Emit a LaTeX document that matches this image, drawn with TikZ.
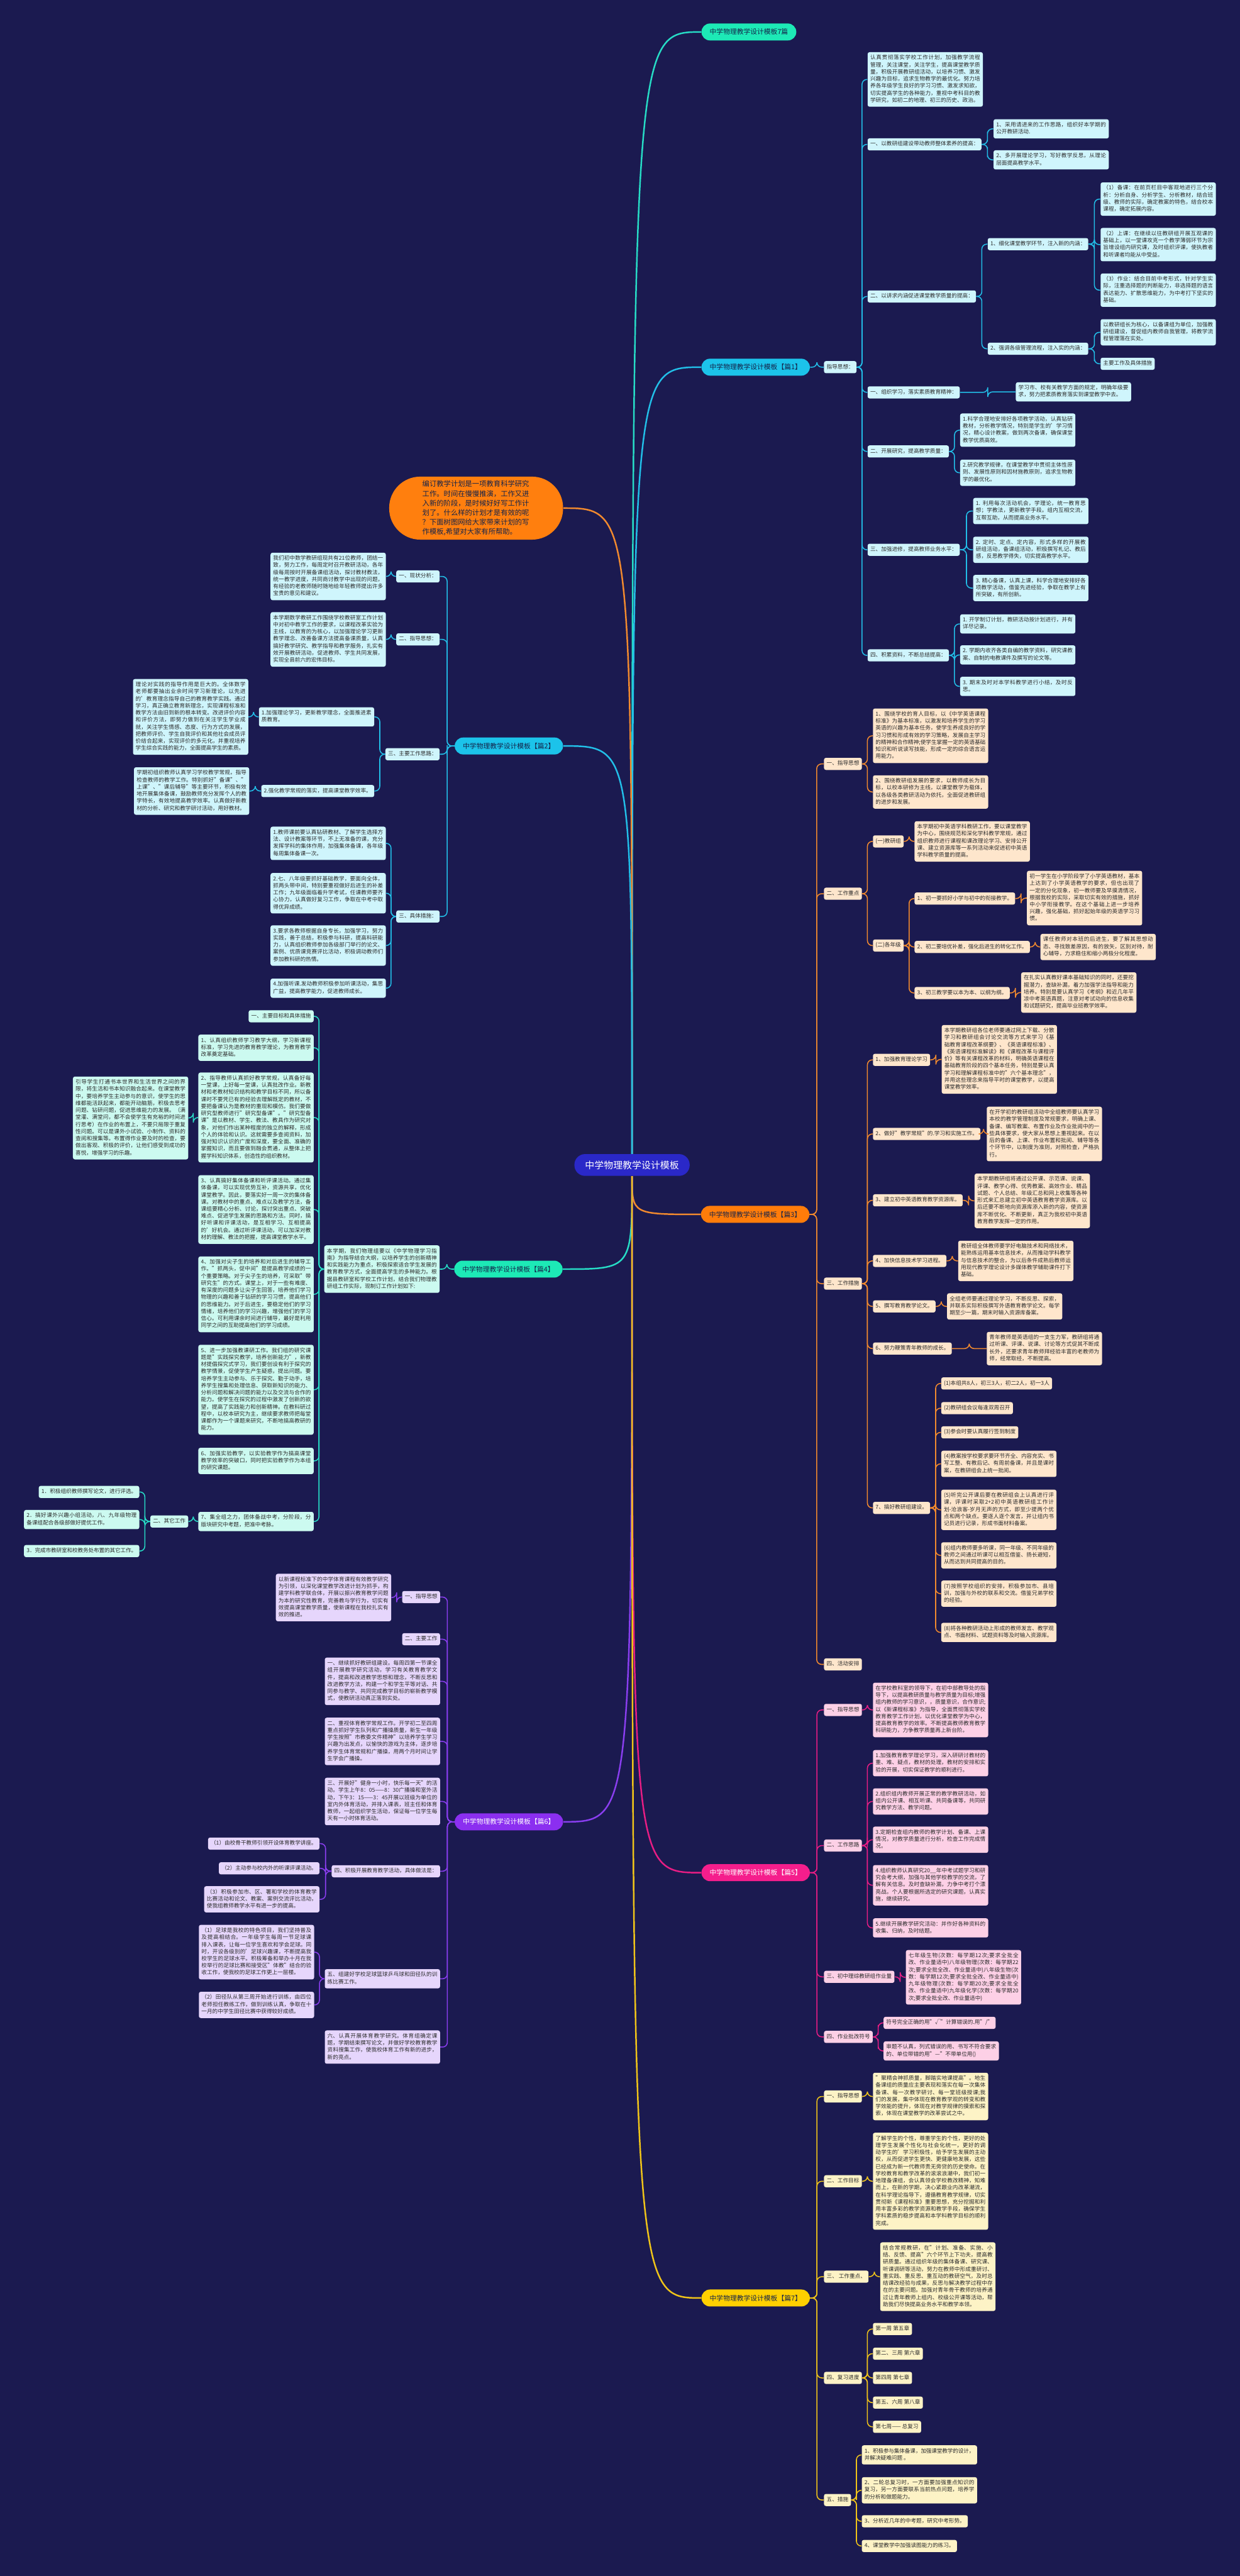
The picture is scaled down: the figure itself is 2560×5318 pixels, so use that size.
\documentclass[tikz,border=0pt]{standalone}
\usepackage{fontspec}
\setmainfont{Noto Sans CJK SC}
\usetikzlibrary{calc}
\XeTeXlinebreaklocale "zh"
\XeTeXlinebreakskip=0pt plus 1pt minus 0.2pt
\definecolor{bgc}{HTML}{1B1A50}
\definecolor{txtc}{HTML}{2B2B2B}
\definecolor{centc}{HTML}{2A28C8}
\definecolor{lnC}{HTML}{22BFE8}\definecolor{fC}{HTML}{CFF5FC}\definecolor{tC}{HTML}{1CC3EA}
\definecolor{lnO}{HTML}{F28A2E}\definecolor{fO}{HTML}{FEE6CC}\definecolor{tO}{HTML}{FF7C0A}
\definecolor{lnM}{HTML}{E81D84}\definecolor{fM}{HTML}{FDD0E6}\definecolor{tM}{HTML}{F51E8C}
\definecolor{lnY}{HTML}{F0C419}\definecolor{fY}{HTML}{FDF3C6}\definecolor{tY}{HTML}{FFD000}
\definecolor{lnT}{HTML}{27DCC6}\definecolor{fT}{HTML}{CCFAF0}\definecolor{tT}{HTML}{1DE9B6}
\definecolor{lnP}{HTML}{8A3EF0}\definecolor{fP}{HTML}{E6D6FC}\definecolor{tP}{HTML}{8B2FF0}
\definecolor{introc}{HTML}{FF7F0E}
\definecolor{darkt}{HTML}{14234A}
\newcommand\myR[3]{\draw[#1] (#2.east) -| ($(#2.east)!0.5!(#3.west)$) |- (#3.west);}
\newcommand\myL[3]{\draw[#1] (#2.west) -| ($(#2.west)!0.5!(#3.east)$) |- (#3.east);}
\newcommand\myC[4]{\draw[#1] (cent.#2) .. controls (cent.#2 |- #3.#4) .. (#3.#4);}
\tikzset{
  lf/.style={font=\fontsize{5.6pt}{7.3pt}\selectfont, text=txtc, inner xsep=2.75pt, inner ysep=2.6pt,
    rounded corners=2pt, execute at begin node=\strut, execute at end node=\strut},
  wd/.style={text width=113.5pt, align=justify},
  bC/.style={lf, fill=fC}, bO/.style={lf, fill=fO}, bM/.style={lf, fill=fM},
  bY/.style={lf, fill=fY}, bT/.style={lf, fill=fT}, bP/.style={lf, fill=fP},
  kC/.style={draw=lnC, line width=1pt, rounded corners=5pt},
  kO/.style={draw=lnO, line width=1pt, rounded corners=5pt},
  kM/.style={draw=lnM, line width=1pt, rounded corners=5pt},
  kY/.style={draw=lnY, line width=1pt, rounded corners=5pt},
  kT/.style={draw=lnT, line width=1pt, rounded corners=5pt},
  kP/.style={draw=lnP, line width=1pt, rounded corners=5pt},
  topn/.style={font=\fontsize{7pt}{9pt}\selectfont, rounded corners=8.75pt, minimum height=17.5pt,
    inner xsep=8.5pt, inner ysep=1pt},
  mn/.style={line width=1.6pt}
}
\begin{document}
\begin{tikzpicture}[x=0.5pt,y=-0.5pt]
\fill[bgc] (0,0) rectangle (2560,5318);
\useasboundingbox (0,0) rectangle (2560,5318);

% ---------- centre and level 1 ----------
\node[fill=centc, text=white, font=\fontsize{9.7pt}{12pt}\selectfont, rounded corners=11pt,
  minimum width=119pt, minimum height=22.5pt] (cent) at (1305,2405) {中学物理教学设计模板};
\node[topn, fill=tT, text=darkt, anchor=west] (t0) at (1448,66) {中学物理教学设计模板7篇};
\node[topn, fill=tC, text=darkt, anchor=west] (s1) at (1448,758) {中学物理教学设计模板【篇1】};
\node[topn, fill=tO, text=darkt, anchor=west] (s3) at (1447,2507) {中学物理教学设计模板【篇3】};
\node[topn, fill=tM, text=white, anchor=west] (s5) at (1448,3866) {中学物理教学设计模板【篇5】};
\node[topn, fill=tY, text=darkt, anchor=west] (s7) at (1448,4744) {中学物理教学设计模板【篇7】};
\node[topn, fill=tC, text=darkt, anchor=east] (s2) at (1163,1540) {中学物理教学设计模板【篇2】};
\node[topn, fill=tT, text=darkt, anchor=east] (s4) at (1162,2620) {中学物理教学设计模板【篇4】};
\node[topn, fill=tP, text=white, anchor=east] (s6) at (1163,3761) {中学物理教学设计模板【篇6】};
\node[fill=introc, text=darkt, anchor=east, font=\fontsize{7.35pt}{9.8pt}\selectfont, rounded corners=32pt,
  minimum width=179.5pt, minimum height=65pt, text width=111pt, align=left] (intro) at (1163,1049)
  {编订教学计划是一项教育科学研究\\工作。时间在慢慢推演，工作又进\\入新的阶段，是时候好好写工作计\\划了。什么样的计划才是有效的呢\\？下面树图网给大家带来计划的写\\作模板,希望对大家有所帮助。};

% ---------- 篇1 ----------
\node[bC, anchor=west] (g1) at (1701,758) {指导思想：};
\node[bC, wd, anchor=west] (a0) at (1791,164) {认真贯彻落实学校工作计划，加强教学流程管理，关注课堂，关注学生，提高课堂教学质量，积极开展教研组活动，以培养习惯、激发兴趣为目标，追求生物教学的最优化。努力培养各年级学生良好的学习习惯、激发求知欲，切实提高学生的各种能力，重视中考科目的教学研究，如初二的地理、初三的历史、政治。};
\node[bC, anchor=west] (a1) at (1791,298) {一、以教研组建设带动教师整体素养的提高：};
\node[bC, wd, anchor=west] (a1a) at (2051,266) {1、采用请进来的工作思路，组织好本学期的公开教研活动.};
\node[bC, wd, anchor=west] (a1b) at (2051,330) {2、多开展理论学习，写好教学反思，从理论层面提高教学水平。};
\node[bC, anchor=west] (a2) at (1791,612) {二、以讲求内涵促进课堂教学质量的提高：};
\node[bC, anchor=west] (a2a) at (2039,504) {1、细化课堂教学环节，注入新的内涵：};
\node[bC, wd, anchor=west] (a2a1) at (2272,411) {（1）备课：在前页栏目中客观地进行三个分析：分析自身、分析学生、分析教材，结合班级、教师的实际，确定教案的特色，结合校本课程，确定拓展内容。};
\node[bC, wd, anchor=west] (a2a2) at (2272,505) {（2）上课：在继续以往教研组开展互观课的基础上，以一堂课攻克一个教学薄弱环节为宗旨增设组内研究课，及时组织评课，使执教者和听课者均能从中受益。};
\node[bC, wd, anchor=west] (a2a3) at (2272,599) {（3）作业：结合目前中考形式，针对学生实际，注重选择题的判断能力，非选择题的语言表达能力、扩散思维能力，为中考打下坚实的基础。};
\node[bC, anchor=west] (a2b) at (2039,720) {2、强调各级管理流程，注入实的内涵：};
\node[bC, wd, anchor=west] (a2b1) at (2272,686) {以教研组长为核心，以备课组为单位，加强教研组建设，督促组内教师自我管理，将教学流程管理落在实处。};
\node[bC, anchor=west] (a2b2) at (2272,751) {主要工作及具体措施};
\node[bC, anchor=west] (b1) at (1791,810) {一、组织学习，落实素质教育精神：};
\node[bC, wd, anchor=west] (b1a) at (2097,809) {学习市、校有关教学方面的规定，明确年级要求，努力把素质教育落实到课堂教学中去。};
\node[bC, anchor=west] (b2) at (1791,932) {二、开展研究，提高教学质量：};
\node[bC, wd, anchor=west] (b2a) at (1982,888) {1.科学合理地安排好各项教学活动，认真钻研教材，分析教学情况，特别是学生的'学习情况，精心设计教案，做到两次备课，确保课堂教学优质高效。};
\node[bC, wd, anchor=west] (b2b) at (1982,976) {2.研究教学规律，在课堂教学中贯彻主体性原则、发展性原则和因材施教原则，追求生物教学的最优化。};
\node[bC, anchor=west] (b3) at (1791,1135) {三、加强进修，提高教师业务水平：};
\node[bC, wd, anchor=west] (b3a) at (2009,1055) {1. 利用每次活动机会，学理论，统一教育思想；学教法，更新教学手段。组内互相交流，互帮互助，从而提高业务水平。};
\node[bC, wd, anchor=west] (b3b) at (2009,1135) {2. 定时、定点、定内容，形式多样的开展教研组活动，备课组活动，积极撰写札记、教后感，反思教学得失，切实提高教学水平。};
\node[bC, wd, anchor=west] (b3c) at (2009,1214) {3. 精心备课，认真上课，科学合理地安排好各项教学活动，借鉴先进经验，争取在教学上有所突破，有所创新。};
\node[bC, anchor=west] (b4) at (1791,1353) {四、积累资料，不断总结提高：};
\node[bC, wd, anchor=west] (b4a) at (1982,1288) {1. 开学制订计划，教研活动按计划进行，并有详尽记录。};
\node[bC, wd, anchor=west] (b4b) at (1982,1352) {2. 学期内收齐各类自编的教学资料，研究课教案、自制的电教课件及撰写的论文等。};
\node[bC, wd, anchor=west] (b4c) at (1982,1417) {3. 期末及时对本学科教学进行小结，及时反思。};

% ---------- 篇3 ----------
\node[bO, anchor=west] (c1) at (1701,1577) {一、指导思想};
\node[bO, wd, anchor=west] (c1a) at (1802,1519) {1、围绕学校的育人目标，以《中学英语课程标准》为基本标准，以激发和培养学生的学习英语的兴趣为基本任务，使学生养成良好的学习习惯和形成有效的学习策略，发展自主学习的精神和合作精神;使学生掌握一定的英语基础知识和听说读写技能，形成一定的综合语言运用能力。};
\node[bO, wd, anchor=west] (c1b) at (1802,1635) {2、围绕教研组发展的要求，以教师成长为目标，以校本研修为主线，以课堂教学为载体，以各级各类教研活动为依托，全面促进教研组的进步和发展。};
\node[bO, anchor=west] (c2) at (1701,1845) {二、工作重点};
\node[bO, anchor=west] (c2a) at (1802,1737) {(一)教研组};
\node[bO, wd, anchor=west] (c2a1) at (1888,1737) {本学期初中英语学科教研工作，要以课堂教学为中心，围绕规范和深化学科教学常规，通过组织教师进行课程和课改理论学习、安排公开课、建立资源库等一系列活动来促进初中英语学科教学质量的提高。};
\node[bO, anchor=west] (c2b) at (1802,1952) {(二)各年级};
\node[bO, anchor=west] (c2b1) at (1888,1855) {1、初一要抓好小学与初中的衔接教学。};
\node[bO, wd, anchor=west] (c2b1a) at (2120,1854) {初一学生在小学阶段学了小学英语教材，基本上达到了小学英语教学的要求，但也出现了一定的分化现象，初一教师要及早摸清情况，根据我校的实际，采取切实有效的措施，抓好中小学衔接教学。在这个基础上进一步培养兴趣，强化基础，抓好起始年级的英语学习习惯。};
\node[bO, wd, anchor=west] (c2b2) at (1888,1955) {2、初二要培优补差，强化后进生的转化工作。};
\node[bO, wd, anchor=west] (c2b2a) at (2148,1955) {课任教师对本班的后进生，要了解其思想动态、寻找致差原因，有的放矢，区别对待，耐心辅导，力求稳住和缩小两极分化程度。};
\node[bO, anchor=west] (c2b3) at (1888,2050) {3、初三教学要以本为本、以纲为纲。};
\node[bO, wd, anchor=west] (c2b3a) at (2108,2049) {在扎实认真教好课本基础知识的同时，还要挖掘潜力，查缺补漏，着力加强学法指导和能力培养。特别是要认真学习《考纲》和近几年平凉中考英语真题，注意对考试动向的信息收集和试题研究，提高毕业班教学效率。};
\node[bO, anchor=west] (c3) at (1701,2650) {三、工作措施};
\node[bO, anchor=west] (c3a) at (1802,2188) {1、加强教育理论学习};
\node[bO, wd, anchor=west] (c3a1) at (1944,2187) {本学期教研组各位老师要通过网上下载、分散学习和教研组会讨论交流等方式来学习《基础教育课程改革纲要》、《英语课程标准》、《英语课程标准解读》和《课程改革与课程评价》等有关课程改革的材料，明确英语课程在基础教育阶段的四个基本任务，特别是要认真学习和理解课程标准中的"六个基本理念"，并用这些理念来指导平时的课堂教学，以提高课堂教学效率。};
\node[bO, anchor=west] (c3b) at (1802,2341) {2、做好"教学常规"的.学习和实施工作。};
\node[bO, wd, anchor=west] (c3b1) at (2037,2341) {在开学初的教研组活动中全组教师要认真学习本校的教学管理制度及常规要求，明确上课、备课、编写教案、布置作业及作业批阅中的一些具体要求，使大家从思想上重视起来。在以后的备课、上课、作业布置和批阅、辅导等各个环节中，以制度为准则，对照检查，严格执行。};
\node[bO, anchor=west] (c3c) at (1802,2478) {3、建立初中英语教育教学资源库。};
\node[bO, wd, anchor=west] (c3c1) at (2012,2479) {本学期教研组将通过公开课、示范课、说课、评课、教学心得、优秀教案、高效作业、精品试题、个人总结、年级汇总和网上收集等各种形式来汇总建立初中英语教育教学资源库。以后还要不断地向资源库添入新的内容，使资源库不断优化、不断更新，真正为我校初中英语教育教学发挥一定的作用。};
\node[bO, anchor=west] (c3d) at (1802,2603) {4、加快信息技术学习进程。};
\node[bO, wd, anchor=west] (c3d1) at (1978,2603) {教研组全体教师要学好电脑技术和网络技术，能熟练运用基本信息技术，从而推动学科教学与信息技术的整合，为以后条件成熟后教师运用现代教学理论设计多媒体教学辅助课件打下基础。};
\node[bO, anchor=west] (c3e) at (1802,2697) {5、撰写教育教学论文。};
\node[bO, wd, anchor=west] (c3e1) at (1955,2697) {全组老师要通过理论学习，不断反思、探索，并联系实际积极撰写外语教育教学论文。每学期至少一篇，期末时输入资源库备案。};
\node[bO, anchor=west] (c3f) at (1802,2784) {6、努力鞭策青年教师的成长。};
\node[bO, wd, anchor=west] (c3f1) at (2037,2784) {青年教师是英语组的一支生力军，教研组将通过听课、评课、说课、讨论等方式促其不断成长外，还要求青年教师拜经验丰富的老教师为师，经常取经，不断提高。};
\node[bO, anchor=west] (c3g) at (1802,3113) {7、搞好教研组建设。};
\node[bO, anchor=west] (g71) at (1943,2856) {(1)本组共8人，初三3人，初二2人，初一3人};
\node[bO, anchor=west] (g72) at (1943,2907) {(2)教研组会议每逢双周召开};
\node[bO, anchor=west] (g73) at (1943,2957) {(3)参会时要认真履行签到制度};
\node[bO, wd, anchor=west] (g74) at (1943,3022) {(4)教案按学校要求要环节齐全、内容充实、书写工整、有教后记、有周前备课，并且是课时案，在教研组会上统一批阅。};
\node[bO, wd, anchor=west] (g75) at (1943,3117) {(5)听完公开课后要在教研组会上认真进行评课，评课时采取2+2初中英语教研组工作计划-沧浪客-岁月无声的方式，即至少提两个优点和两个缺点。要逐人逐个发言，并让组内书记员进行记录，形成书面材料备案。};
\node[bO, wd, anchor=west] (g76) at (1943,3211) {(6)组内教师要多听课，同一年级、不同年级的教师之间通过听课可以相互借鉴、扬长避短，从而达到共同提高的目的。};
\node[bO, wd, anchor=west] (g77) at (1943,3290) {(7)按照学校组织的安排，积极参加市、县培训，加强与外校的联系和交流。借鉴兄弟学校的经验。};
\node[bO, wd, anchor=west] (g78) at (1943,3370) {(8)将各种教研活动上形成的教师发言、教学观点、书面材料、试题资料等及时输入资源库。};
\node[bO, anchor=west] (c4) at (1701,3436) {四、活动安排};

% ---------- 篇5 ----------
\node[bM, anchor=west] (e1) at (1701,3530) {一、指导思想};
\node[bM, wd, anchor=west] (e1a) at (1802,3530) {在学校教科室的领导下，在初中部教导处的指导下，以提高教研质量与教学质量为目标;增强组内教师的学习意识，，质量意识，合作意识;以《新课程标准》为指导，全面贯彻落实学校教育教学工作计划，以优化课堂教学为中心，提高教育教学的效率。不断提高教师教育教学科研能力，力争教学质量再上新台阶。};
\node[bM, anchor=west] (e2) at (1701,3810) {二、工作思路};
\node[bM, wd, anchor=west] (e2a) at (1802,3640) {1.加强教育教学理论学习，深入研研讨教材的重、难、疑点，教材的处理，教材的安排和实验的开展，切实保证教学的顺利进行。};
\node[bM, wd, anchor=west] (e2b) at (1802,3719) {2.组织组内教师开展正常的教学教研活动，如组内公开课、相互听课、共同备课等，共同研究教学方法、教学问题。};
\node[bM, wd, anchor=west] (e2c) at (1802,3798) {3.定期检查组内教师的教学计划、备课、上课情况，对教学质量进行分析，检查工作完成情况。};
\node[bM, wd, anchor=west] (e2d) at (1802,3892) {4.组织教师认真研究20\_\_年中考试题学习和研究会考大纲，加强与其他学校教学的交流，了解有关信息。及时查缺补漏，力争中考打个漂亮战。个人要根据所选定的研究课题，认真实施，继续研究。};
\node[bM, wd, anchor=west] (e2e) at (1802,3980) {5.继续开展教学研究活动：并作好各种资料的收集、归纳，及时结题。};
\node[bM, anchor=west] (e3) at (1701,4081) {三、初中理综教研组作业量};
\node[bM, wd, anchor=west] (e3a) at (1870,4082) {七年级生物(次数：每学期12次;要求全批全改、作业量适中)八年级物理(次数：每学期22次;要求全批全改、作业量适中)八年级生物(次数：每学期12次;要求全批全改、作业量适中)九年级物理(次数：每学期20次;要求全批全改、作业量适中)九年级化学(次数：每学期20次;要求全批全改、作业量适中)};
\node[bM, anchor=west] (e4) at (1701,4205) {四、作业批改符号};
\node[bM, anchor=west] (e4a) at (1824,4176) {符号完全正确的用"√"计算错误的.用"/"};
\node[bM, wd, anchor=west] (e4b) at (1824,4234) {审题不认真，列式错误的用、书写不符合要求的、单位带错的用"—"不带单位用()};

% ---------- 篇7 ----------
\node[bY, anchor=west] (h1) at (1701,4328) {一、指导思想};
\node[bY, wd, anchor=west] (h1a) at (1802,4328) {"聚精会神抓质量，脚踏实地课提高"。地生备课组的质量应主要表现和落实在每一次集体备课、每一次教学研讨、每一堂班级授课;我们的发展，集中体现在教育教学观的转变和教学效能的提升，体现在对教学规律的摸索和探索，体现在课堂教学的改革尝试之中。};
\node[bY, anchor=west] (h2) at (1701,4503) {二、工作目标};
\node[bY, wd, anchor=west] (h2a) at (1802,4503) {了解学生的个性，尊重学生的个性，更好的处理学生发展个性化与社会化统一，更好的调动学生的'学习积极性，给予学生发展的主动权，从而促进学生更快、更健康地发展，这些已经成为新一代教师责无旁贷的历史使命。在学校教育和教学改革的滚滚浪潮中，我们初一地理备课组，会认真领会学校教改精神，知难而上，在新的学期，决心紧跟业内改革潮流，在科学理论指导下，遵循教育教学规律，切实贯彻新《课程标准》重要思想，充分挖掘和利用丰富多彩的教学资源和教学手段，确保学生学科素质的稳步提高和本学科教学目标的顺利完成。};
\node[bY, anchor=west] (h3) at (1701,4700) {三、 工作重点、};
\node[bY, wd, anchor=west] (h3a) at (1817,4700) {结合常规教研，在"计划、准备、实施、小结、反馈、提高"六个环节上下功夫，提高教研质量。通过组织年级的集体备课、研究课、听课调研等活动，努力在教师中形成重研讨、重实践、重反思、重互动的教研空气，及时总结课改经验与成果，反思与解决教学过程中存在的主要问题。加强对青年骨干教师的培养通过让青年教师上组内、校级公开课等活动，帮助我们尽快提高业务水平和教学本领。};
\node[bY, anchor=west] (h4) at (1701,4909) {四、复习进度};
\node[bY, anchor=west] (h4a) at (1802,4808) {第一周 第五章};
\node[bY, anchor=west] (h4b) at (1802,4859) {第二、三周 第六章};
\node[bY, anchor=west] (h4c) at (1802,4909) {第四周 第七章};
\node[bY, anchor=west] (h4d) at (1802,4960) {第五、六周 第八章};
\node[bY, anchor=west] (h4e) at (1802,5010) {第七周—— 总复习};
\node[bY, anchor=west] (h5) at (1701,5161) {五、措施};
\node[bY, wd, anchor=west] (h5a) at (1779,5068) {1、积极参与集体备课，加强课堂教学的设计，并解决疑难问题 。};
\node[bY, wd, anchor=west] (h5b) at (1779,5141) {2、二轮总复习时，一方面要加强重点知识的复习，另一方面要联系当前热点问题，培养学的分析和做题能力。};
\node[bY, anchor=west] (h5c) at (1779,5205) {3、分析近几年的中考题，研究中考形势。};
\node[bY, anchor=west] (h5d) at (1779,5256) {4、课堂教学中加强读图能力的练习。};

% ---------- 篇2 ----------
\node[bC, anchor=east] (l1) at (908,1190) {一、现状分析：};
\node[bC, wd, anchor=east] (l1a) at (797,1190) {我们初中数学教研组现共有21位教师，团结一致，努力工作，每周定时召开教研活动，各年级每周按时开展备课组活动，探讨教材教法，统一教学进度，共同商讨教学中出现的问题，有经验的老教师随时随地给年轻教师提出许多宝贵的意见和建议。};
\node[bC, anchor=east] (l2) at (908,1320) {二、指导思想：};
\node[bC, wd, anchor=east] (l2a) at (797,1320) {本学期数学教研工作围绕学校教研室工作计划中对初中教学工作的要求，以课程改革实验为主线，以教育的为核心，以加强理论学习更新教学理念、改善备课方法提高备课质量，认真搞好教学研究、教学指导和教学服务，扎实有效开展教研活动，促进教师、学生共同发展，实现全县前六的宏伟目标。};
\node[bC, anchor=east] (l3) at (908,1557) {三、主要工作思路：};
\node[bC, wd, anchor=east] (l3a) at (773,1480) {1.加强理论学习，更新教学理念，全面推进素质教育。};
\node[bC, wd, anchor=east] (l3a1) at (513,1480) {理论对实践的指导作用是巨大的。全体数学老师都要抽出业余时间学习新理论，以先进的'教育理念指导自己的教育教学实践。通过学习，真正确立教育新理念，实现课程标准和教学方法由旧到新的根本转变。改进评价内容和评价方法，即努力做到在关注学生学业成就，关注学生情感、态度、行为方式的发展，把教师评价、学生自我评价和其他社会成员评价结合起来，实现评价的多元化，并重视培养学生综合实践的能力，全面提高学生的素质。};
\node[bC, anchor=east] (l3b) at (773,1633) {2.强化教学常规的落实，提高课堂教学效率。};
\node[bC, wd, anchor=east] (l3b1) at (515,1633) {学期初组织教师认真学习学校教学常规，指导检查教师的教学工作。特别抓好"备课"、"上课"、"课后辅导"等主要环节，积极有效地开展集体备课，鼓励教师充分发挥个人的教学特长，有效地提高教学效率。认真做好新教材的分析、研究和教学研讨活动，用好教材。};
\node[bC, anchor=east] (l4) at (908,1892) {三、具体措施：};
\node[bC, wd, anchor=east] (l4a) at (797,1741) {1.教师课前要认真钻研教材、了解学生选择方法、设计教案等环节，不上无准备的课，充分发挥学科的集体作用，加强集体备课，各年级每周集体备课一次。};
\node[bC, wd, anchor=east] (l4b) at (797,1844) {2.七、八年级要抓好基础教学，要面向全体，抓两头带中间，特别要重视做好后进生的补差工作；九年级面临着升学考试，任课教师要齐心协力，认真做好复习工作，争取在中考中取得优异成绩。};
\node[bC, wd, anchor=east] (l4c) at (797,1952) {3.要求各教师根据自身专长，加强学习，努力实践，善于总结，积极参与科研，提高科研能力，认真组织教师参加各级部门举行的论文、案例、优质课竞赛评比活动，积极调动教师们参加教科研的热情。};
\node[bC, wd, anchor=east] (l4d) at (797,2040) {4.加强听课.发动教师积极参加听课活动，集思广益，提高教学能力，促进教师成长。};

% ---------- 篇4 ----------
\node[bT, wd, anchor=east] (p0) at (908,2620) {本学期，我们物理组要以《中学物理学习指南》为指导结合大纲，以培养学生的创新精神和实践能力为重点，积极探索适合学生发展的教育教学方式，全面提高学生的多种能力。根据县教研室和学校工作计划，结合我们物理教研组工作实际，现制订工作计划如下:};
\node[bT, anchor=east] (p1) at (648,2098) {一、主要目标和具体措施};
\node[bT, wd, anchor=east] (p2) at (648,2163) {1、认真组织教师学习教学大纲，学习新课程标准，学习先进的教育教学理论，为教育教学改革奠定基础。};
\node[bT, wd, anchor=east] (p3) at (648,2307) {2、指导教师认真抓好教学常规，认真备好每一堂课，上好每一堂课，认真批改作业。新教材和老教材知识结构和教学目标不同，所以备课时不要凭已有的经验去理解既定的教材，不要把备课认为是教材的重现和模仿。我们要做研究型教师进行"研究型备课"。"研究型备课"是以教材、学生、教法、教具作为研究对象，对他们作出某种程度的独立的解释，形成个人的体验和认识。这就需要多查阅资料，加强对知识认识的广度和深度，要全面、准确的掌握知识，而且要做到融会贯通，从整体上把握学科知识体系，创造性的组织教材。};
\node[bT, wd, anchor=east] (p3a) at (389,2308) {引导学生打通书本世界和生活世界之间的界限，将生活和书本知识融合起来。在课堂教学中，要培养学生主动参与的意识，使学生的思维都能活跃起来，都能开动脑筋，积极去思考问题、钻研问题，促进思维能力的发展。（满堂灌、满堂问，都不会使学生有充裕的时间进行思考）在作业的布置上，不要只局限于重复性问题。可以是课外小试验、小制作、资料的查阅和搜集等。布置得作业要及时的检查，要做出客观、积极的评价，让他们感受到成功的喜悦，增强学习的乐趣。};
\node[bT, wd, anchor=east] (p4) at (648,2497) {3、认真搞好集体备课和听评课活动。通过集体备课，可以实现优势互补，资源共享，优化课堂教学。因此，要落实好一周一次的集体备课。对教材中的重点、难点以及教学方法，备课组要精心分析、讨论，探讨突出重点、突破难点、促进学生发展的思路和方法。同时，搞好听课和评课活动，是互相学习、互相提高的'好机会。通过听评课活动，可以加深对教材的理解、教法的把握，提高课堂教学水平。};
\node[bT, wd, anchor=east] (p5) at (648,2672) {4、加强对尖子生的培养和对后进生的辅导工作。"抓两头，促中间"是提高教学成绩的一个重要策略。对于尖子生的培养，可采取"带研究生"的方式。课堂上，对于一些有难度、有深度的问题多让尖子生回答，培养他们学习物理的兴趣和善于钻研的学习习惯，提高他们的思维能力。对于后进生，要稳定他们的学习情绪，培养他们的学习兴趣，增强他们的学习信心。可利用课余时间进行辅导，最好是利用同学之间的互助提高他们的学习成绩。};
\node[bT, wd, anchor=east] (p6) at (648,2869) {5、进一步加强教课研工作。我们组的研究课题是"实践探究教学，培养创新能力"，新教材提倡探究式学习，我们要创设有利于探究的教学情景，促使学生产生疑惑，提出问题。要培养学生主动参与、乐于探究、勤于动手，培养学生搜集和处理信息、获取新知识的能力、分析问题和解决问题的能力以及交流与合作的能力。使学生在探究的过程中激发了创新的欲望，提高了实践能力和创新精神。在教科研过程中，以校本研究为主，继续要求教师把每堂课都作为一个课题来研究，不断地搞高教研的能力。};
\node[bT, wd, anchor=east] (p7) at (648,3016) {6、加强实验教学，以实验教学作为搞高课堂教学效率的突破口，同时把实验教学作为本组的研究课题。};
\node[bT, wd, anchor=east] (p8) at (648,3141) {7、集全组之力，团体备战中考，分阶段，分版块研究中考题，把准中考脉。};
\node[bT, anchor=east] (p8a) at (389,3141) {二、其它工作};
\node[bT, anchor=east] (p8a1) at (288,3080) {1．积极组织教师撰写论文，进行评选。};
\node[bT, wd, anchor=east] (p8a2) at (288,3137) {2．搞好课外兴趣小组活动，八、九年级物理备课组配合各级部做好提优工作。};
\node[bT, wd, anchor=east] (p8a3) at (288,3202) {3．完成市教研室和校教务处布置的其它工作。};

% ---------- 篇6 ----------
\node[bP, anchor=east] (q1) at (909,3297) {一、指导思想};
\node[bP, wd, anchor=east] (q1a) at (808,3298) {以新课程标准下的中学体育课程有效教学研究为引领，以深化课堂教学改进计划为抓手，构建学科教学联合体，开展以振兴教育教学问题为本的研究性教育，完善教与学行为，切实有效提高课堂教学质量，使新课程在我校扎实有效的推进。};
\node[bP, anchor=east] (q2) at (909,3384) {二、主要工作};
\node[bP, wd, anchor=east] (q3) at (909,3471) {一、继续抓好教研组建设。每周四第一节课全组开展教学研究活动，学习有关教育教学文件，提高和改进教学思想和理念，不断反思和改进教学方法，构建一个和学生平等对话、共同参与教学、共同完成教学目标的崭新教学模式，使教研活动真正落到实处。};
\node[bP, wd, anchor=east] (q4) at (909,3595) {二、重视体育教学常规工作。开学初二至四周重点抓好学生队列和广播操质量，新生一年级学生按照"市教委文件精神"以培养学生学习兴趣为出发点，以愉快的游戏为主体，逐步培养学生体育常规和广播操，用两个月时间让学生学会广播操。};
\node[bP, wd, anchor=east] (q5) at (909,3719) {三、开展好"健身一小时，快乐每一天"的活动。学生上午8：05——8：30广播操和室外活动，下午3：15——3：45开展以班级为单位的室内外体育活动，并排入课表，班主任和体育教师，一起组织学生活动，保证每一位学生每天有一小时体育活动。};
\node[bP, anchor=east] (q6) at (909,3863) {四、积极开展教育教学活动，具体做法是：};
\node[bP, anchor=east] (q6a) at (660,3806) {（1）由校骨干教师引领开设体育教学讲座。};
\node[bP, anchor=east] (q6b) at (660,3857) {（2）主动参与校内外的听课评课活动。};
\node[bP, wd, anchor=east] (q6c) at (660,3921) {（3）积极参加市、区、署和学校的体育教学比赛活动和论文、教案、案例交流评比活动，使我组教师教学水平有进一步的提高。};
\node[bP, wd, anchor=east] (q7) at (909,4085) {五、组建好学校足球篮球乒乓球和田径队的训练比赛工作。};
\node[bP, wd, anchor=east] (q7a) at (649,4030) {（1）足球是我校的特色项目，我们坚持普及及提高相结合。一年级学生每周一节足球课排入课表，让每一位学生喜欢和学会足球。同时，开设各级别的'足球兴趣课，不断提高我校学生的足球水平。积极筹备和举办十月在我校举行的足球比赛和接受区"体教"结合的验收工作，使我校的足球工作更上一层楼。};
\node[bP, wd, anchor=east] (q7b) at (649,4139) {（2）田径队从第三周开始进行训练，由四位老师担任教练工作，做到训练认真，争取在十一月的中学生田径比赛中获得较好成绩。};
\node[bP, wd, anchor=east] (q8) at (909,4226) {六、认真开展体育教学研究。体育组确定课题，学期结束撰写论文，并做好学校教育教学资料搜集工作，使我校体育工作有新的进步，新的亮点。};

% ---------- connectors from centre ----------
\myC{mn, draw=lnT}{north}{t0}{west}
\myC{mn, draw=lnC}{north}{s1}{west}
\myC{mn, draw=lnO}{north}{intro}{east}
\myC{mn, draw=lnC}{north}{s2}{east}
\myC{mn, draw=lnO}{south}{s3}{west}
\myC{mn, draw=lnT}{south}{s4}{east}
\myC{mn, draw=lnM}{south}{s5}{west}
\myC{mn, draw=lnP}{south}{s6}{east}
\myC{mn, draw=lnY}{south}{s7}{west}

% ---------- 篇1 connectors ----------
\myR{kC}{s1}{g1}
\foreach \c in {a0,a1,a2,b1,b2,b3,b4} {\myR{kC}{g1}{\c}}
\myR{kC}{a1}{a1a}\myR{kC}{a1}{a1b}
\myR{kC}{a2}{a2a}\myR{kC}{a2}{a2b}
\foreach \c in {a2a1,a2a2,a2a3} {\myR{kC}{a2a}{\c}}
\myR{kC}{a2b}{a2b1}\myR{kC}{a2b}{a2b2}
\myR{kC}{b1}{b1a}
\myR{kC}{b2}{b2a}\myR{kC}{b2}{b2b}
\foreach \c in {b3a,b3b,b3c} {\myR{kC}{b3}{\c}}
\foreach \c in {b4a,b4b,b4c} {\myR{kC}{b4}{\c}}

% ---------- 篇3 connectors ----------
\foreach \c in {c1,c2,c3,c4} {\myR{kO}{s3}{\c}}
\myR{kO}{c1}{c1a}\myR{kO}{c1}{c1b}
\myR{kO}{c2}{c2a}\myR{kO}{c2}{c2b}
\myR{kO}{c2a}{c2a1}
\foreach \c in {c2b1,c2b2,c2b3} {\myR{kO}{c2b}{\c}}
\myR{kO}{c2b1}{c2b1a}\myR{kO}{c2b2}{c2b2a}\myR{kO}{c2b3}{c2b3a}
\foreach \c in {c3a,c3b,c3c,c3d,c3e,c3f,c3g} {\myR{kO}{c3}{\c}}
\myR{kO}{c3a}{c3a1}\myR{kO}{c3b}{c3b1}\myR{kO}{c3c}{c3c1}
\myR{kO}{c3d}{c3d1}\myR{kO}{c3e}{c3e1}\myR{kO}{c3f}{c3f1}
\foreach \c in {g71,g72,g73,g74,g75,g76,g77,g78} {\myR{kO}{c3g}{\c}}

% ---------- 篇5 connectors ----------
\foreach \c in {e1,e2,e3,e4} {\myR{kM}{s5}{\c}}
\myR{kM}{e1}{e1a}
\foreach \c in {e2a,e2b,e2c,e2d,e2e} {\myR{kM}{e2}{\c}}
\myR{kM}{e3}{e3a}
\myR{kM}{e4}{e4a}\myR{kM}{e4}{e4b}

% ---------- 篇7 connectors ----------
\foreach \c in {h1,h2,h3,h4,h5} {\myR{kY}{s7}{\c}}
\myR{kY}{h1}{h1a}\myR{kY}{h2}{h2a}\myR{kY}{h3}{h3a}
\foreach \c in {h4a,h4b,h4c,h4d,h4e} {\myR{kY}{h4}{\c}}
\foreach \c in {h5a,h5b,h5c,h5d} {\myR{kY}{h5}{\c}}

% ---------- 篇2 connectors ----------
\foreach \c in {l1,l2,l3,l4} {\myL{kC}{s2}{\c}}
\myL{kC}{l1}{l1a}\myL{kC}{l2}{l2a}
\myL{kC}{l3}{l3a}\myL{kC}{l3}{l3b}
\myL{kC}{l3a}{l3a1}\myL{kC}{l3b}{l3b1}
\foreach \c in {l4a,l4b,l4c,l4d} {\myL{kC}{l4}{\c}}

% ---------- 篇4 connectors ----------
\myL{kT}{s4}{p0}
\foreach \c in {p1,p2,p3,p4,p5,p6,p7,p8} {\myL{kT}{p0}{\c}}
\myL{kT}{p3}{p3a}
\myL{kT}{p8}{p8a}
\foreach \c in {p8a1,p8a2,p8a3} {\myL{kT}{p8a}{\c}}

% ---------- 篇6 connectors ----------
\foreach \c in {q1,q2,q3,q4,q5,q6,q7,q8} {\myL{kP}{s6}{\c}}
\myL{kP}{q1}{q1a}
\foreach \c in {q6a,q6b,q6c} {\myL{kP}{q6}{\c}}
\myL{kP}{q7}{q7a}\myL{kP}{q7}{q7b}
\end{tikzpicture}
\end{document}
